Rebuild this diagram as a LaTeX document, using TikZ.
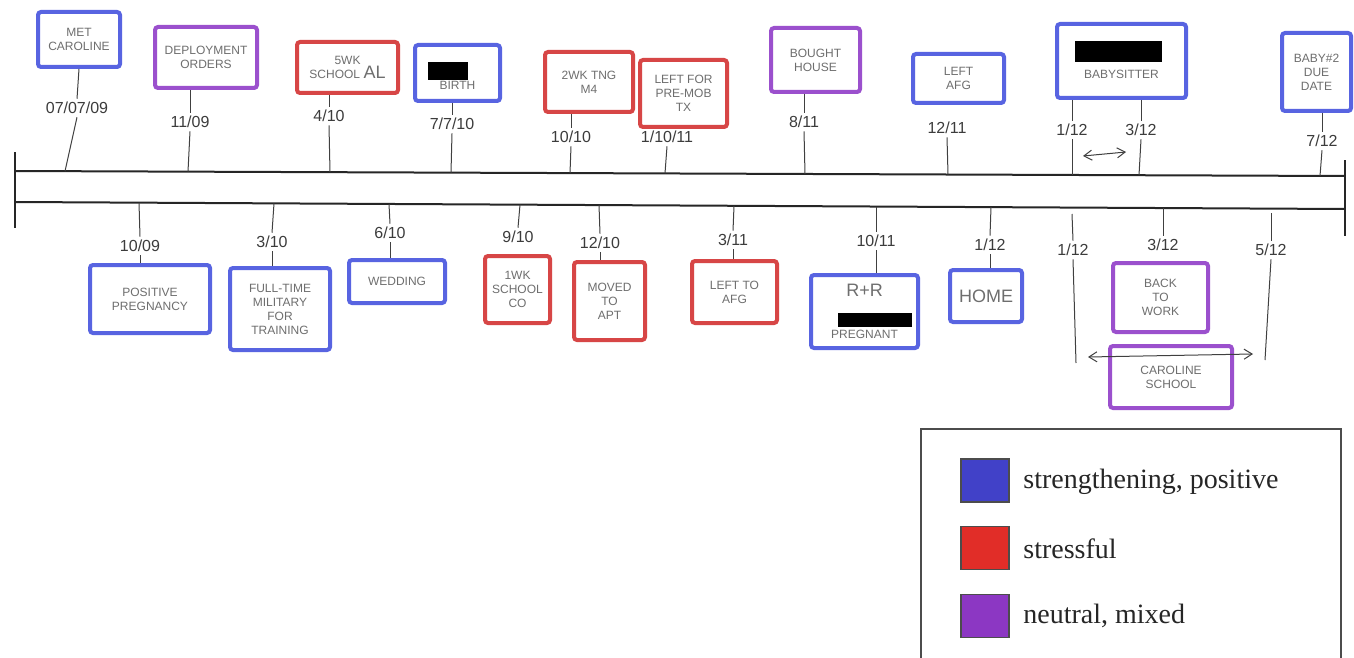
\documentclass[tikz,border=0pt]{standalone}
\usepackage{fontspec}
\setmainfont{Liberation Serif}
\newfontfamily\hwfamily{Liberation Sans}
\usetikzlibrary{arrows.meta}
\definecolor{eblue}{RGB}{88,100,225}
\definecolor{ered}{RGB}{215,70,70}
\definecolor{epurple}{RGB}{155,80,205}
\definecolor{lblue}{RGB}{65,65,200}
\definecolor{lred}{RGB}{225,45,40}
\definecolor{lpurple}{RGB}{140,55,195}
\definecolor{hwgray}{RGB}{110,110,110}
\definecolor{dtgray}{RGB}{60,60,60}
\newcommand\hwsize{\hwfamily\fontsize{6}{7}\selectfont}
\newcommand\dtsize{\hwfamily\fontsize{8}{9}\selectfont}
\tikzset{
  ev/.style={draw, line width=2pt, rounded corners=1.5pt, inner sep=1pt, align=center, font=\hwsize, text=hwgray},
  evb/.style={ev, draw=eblue},
  evr/.style={ev, draw=ered},
  evp/.style={ev, draw=epurple},
  dt/.style={font=\dtsize, text=dtgray, inner sep=1.5pt},
  conn/.style={draw=black!75, line width=0.5pt},
  tl/.style={draw=black!85, line width=1pt},
  lgsq/.style={draw=black!70, line width=0.6pt, minimum width=24pt, minimum height=21.5pt, inner sep=0pt},
  lgtext/.style={anchor=west, font=\fontsize{14}{16}\selectfont, text=black!85, inner sep=0pt},
  tip/.style={{Straight Barb[length=4pt,width=5pt]}-{Straight Barb[length=4pt,width=5pt]}}
}
\begin{document}
\begin{tikzpicture}[x=0.5pt,y=-0.5pt]
\useasboundingbox (0,0) rectangle (1354,658);
\fill[white] (0,0) rectangle (1354,658);

% timeline
\coordinate (L1) at (15,152); \coordinate (L2) at (15,228);
\coordinate (R1) at (1345,160); \coordinate (R2) at (1345,236);
\coordinate (TA) at (15,171); \coordinate (TB) at (1345,176);
\coordinate (BA) at (15,202); \coordinate (BB) at (1345,209);
\draw[tl] (L1) -- (L2);
\draw[tl] (R1) -- (R2);
\draw[tl] (TA) -- (TB);
\draw[tl] (BA) -- (BB);

% ---------- top events ----------
\node[evb, minimum width=41pt, minimum height=27.5pt] (e1) at (79,39.5) {MET\\CAROLINE};
\node[dt] (d1) at (77,108) {07/07/09};
\coordinate (t1) at (65,171.2);
\draw[conn] (e1.south) -- (d1.north); \draw[conn] (d1.south) -- (t1);

\node[evp, minimum width=51pt, minimum height=30.5pt] (e2) at (206,57.5) {DEPLOYMENT\\ORDERS};
\node[dt] (d2) at (190,122) {11/09};
\coordinate (t2) at (188,171.7);
\draw[conn] (d2.north |- e2.south) -- (d2.north); \draw[conn] (d2.south) -- (t2);

\node[evr, minimum width=50.5pt, minimum height=25.5pt] (e3) at (347.5,67.5) {5WK\\SCHOOL \fontsize{9}{9}\selectfont AL};
\node[dt] (d3) at (329,116) {4/10};
\coordinate (t3) at (330,172.2);
\draw[conn] (d3.north |- e3.south) -- (d3.north); \draw[conn] (d3.south) -- (t3);

\node[evb, minimum width=42.5pt, minimum height=28pt] (e4) at (457.5,73) {\rule{0pt}{1pt}\\[9pt]BIRTH};
\fill[black] (428,62) rectangle (468,80);
\node[dt] (d4) at (452,124) {7/7/10};
\coordinate (t4) at (451,172.6);
\draw[conn] (d4.north |- e4.south) -- (d4.north); \draw[conn] (d4.south) -- (t4);

\node[evr, minimum width=44pt, minimum height=30pt] (e5) at (589,82) {2WK TNG\\M4};
\node[dt] (d5) at (571,137) {10/10};
\coordinate (t5) at (570,173.1);
\draw[conn] (d5.north |- e5.south) -- (d5.north); \draw[conn] (d5.south) -- (t5);

\node[evr, minimum width=43.5pt, minimum height=33.5pt] (e6) at (683.5,93.5) {LEFT FOR\\PRE-MOB\\TX};
\node[dt] (d6) at (667,137) {1/10/11};
\coordinate (t6) at (665,173.4);
\draw[conn] (d6.south) -- (t6);

\node[evp, minimum width=44.5pt, minimum height=32pt] (e7) at (815.5,60) {BOUGHT\\HOUSE};
\node[dt] (d7) at (804,122) {8/11};
\coordinate (t7) at (805,174);
\draw[conn] (d7.north |- e7.south) -- (d7.north); \draw[conn] (d7.south) -- (t7);

\node[evb, minimum width=45.5pt, minimum height=24.5pt] (e8) at (958.5,78.5) {LEFT\\AFG};
\node[dt] (d8) at (947,128) {12/11};
\coordinate (t8) at (948,174.5);
\draw[conn] (d8.south) -- (t8);

\node[evb, minimum width=64.5pt, minimum height=37pt] (e9) at (1121.5,61) {\rule{0pt}{1pt}\\[10pt]BABYSITTER};
\fill[black] (1075,41) rectangle (1162,62);
\node[dt] (d9a) at (1072,130) {1/12};
\node[dt] (d9b) at (1141,130) {3/12};
\coordinate (t9a) at (1072,175);
\coordinate (t9b) at (1139,175.2);
\draw[conn] (d9a.north |- e9.south) -- (d9a.north); \draw[conn] (d9a.south) -- (t9a);
\draw[conn] (d9b.north |- e9.south) -- (d9b.north); \draw[conn] (d9b.south) -- (t9b);
\coordinate (a1) at (1083,156); \coordinate (a2) at (1126,152);
\draw[conn, tip] (a1) -- (a2);

\node[evb, minimum width=34.5pt, minimum height=39pt] (e10) at (1316.5,72) {BABY\#2\\DUE\\DATE};
\node[dt] (d10) at (1322,141) {7/12};
\coordinate (t10) at (1320,175.9);
\draw[conn] (d10.north |- e10.south) -- (d10.north); \draw[conn] (d10.south) -- (t10);

% ---------- bottom events ----------
\node[evb, minimum width=60pt, minimum height=34pt] (e11) at (150,299) {POSITIVE\\PREGNANCY};
\node[dt] (d11) at (140,246) {10/09};
\coordinate (t11) at (139,202.7);
\draw[conn] (t11) -- (d11.north); \draw[conn] (d11.south) -- (d11.south |- e11.north);

\node[evb, minimum width=50pt, minimum height=41pt] (e12) at (280,309) {FULL-TIME\\MILITARY\\FOR\\TRAINING};
\node[dt] (d12) at (272,242) {3/10};
\coordinate (t12) at (274,203.4);
\draw[conn] (t12) -- (d12.north); \draw[conn] (d12.south) -- (d12.south |- e12.north);

\node[evb, minimum width=48pt, minimum height=21.5pt] (e13) at (397,281.5) {WEDDING};
\node[dt] (d13) at (390,233) {6/10};
\coordinate (t13) at (389,204);
\draw[conn] (t13) -- (d13.north); \draw[conn] (d13.south) -- (d13.south |- e13.north);

\node[evr, minimum width=32.5pt, minimum height=33.5pt] (e14) at (517.5,289.5) {1WK\\SCHOOL\\CO};
\node[dt] (d14) at (518,237) {9/10};
\coordinate (t14) at (520,204.7);
\draw[conn] (t14) -- (d14.north);

\node[evr, minimum width=35.5pt, minimum height=39pt] (e15) at (609.5,301) {MOVED\\TO\\APT};
\node[dt] (d15) at (600,243) {12/10};
\coordinate (t15) at (599,205);
\draw[conn] (t15) -- (d15.north); \draw[conn] (d15.south) -- (d15.south |- e15.north);

\node[evr, minimum width=42.5pt, minimum height=31pt] (e16) at (734.5,292) {LEFT TO\\AFG};
\node[dt] (d16) at (733,240) {3/11};
\coordinate (t16) at (734,205.8);
\draw[conn] (t16) -- (d16.north); \draw[conn] (d16.south) -- (d16.south |- e16.north);

\node[evb, minimum width=53.5pt, minimum height=36.5pt] (e17) at (864.5,311.5) {{\fontsize{9}{9}\selectfont R+R}\\[14pt]PREGNANT};
\fill[black] (838,313) rectangle (912,327);
\node[dt] (d17) at (876,241) {10/11};
\coordinate (t17) at (876,206.5);
\draw[conn] (t17) -- (d17.north); \draw[conn] (d17.south) -- (d17.south |- e17.north);

\node[evb, minimum width=36pt, minimum height=26pt, font=\hwfamily\fontsize{9}{10}\selectfont] (e18) at (986,296) {HOME};
\node[dt] (d18) at (990,245) {1/12};
\coordinate (t18) at (991,207.1);
\draw[conn] (t18) -- (d18.north); \draw[conn] (d18.south) -- (d18.south |- e18.north);

\node[dt] (d19) at (1073,250) {1/12};
\coordinate (t19) at (1072,214);
\coordinate (b19) at (1076,363);
\draw[conn] (t19) -- (d19.north); \draw[conn] (d19.south) -- (b19);

\node[evp, minimum width=47.5pt, minimum height=34.5pt] (e20) at (1160.5,297.5) {BACK\\TO\\WORK};
\node[dt] (d20) at (1163,245) {3/12};
\coordinate (t20) at (1163,208);
\draw[conn] (t20) -- (d20.north);

\node[dt] (d21) at (1271,250) {5/12};
\coordinate (t21) at (1271,213);
\coordinate (b21) at (1265,360);
\draw[conn] (t21) -- (d21.north); \draw[conn] (d21.south) -- (b21);

\node[evp, minimum width=61pt, minimum height=31pt] (e22) at (1171,377) {CAROLINE\\SCHOOL};
\coordinate (c1) at (1088,357); \coordinate (c2) at (1253,354);
\draw[conn, tip] (c1) -- (c2);

% ---------- legend ----------
\coordinate (g1) at (921,660); \coordinate (g2) at (921,429);
\coordinate (g3) at (1341,429); \coordinate (g4) at (1341,660);
\draw[draw=black!70, line width=0.6pt] (g1) -- (g2) -- (g3) -- (g4);
\node[lgsq, fill=lblue] (k1) at (985,480.5) {};
\node[lgtext] (k1t) at (1023,482) {strengthening, positive};
\node[lgsq, fill=lred] (k2) at (985,548) {};
\node[lgtext] (k2t) at (1023,549) {stressful};
\node[lgsq, fill=lpurple] (k3) at (985,616) {};
\node[lgtext] (k3t) at (1023,616) {neutral, mixed};
\end{tikzpicture}
\end{document}
